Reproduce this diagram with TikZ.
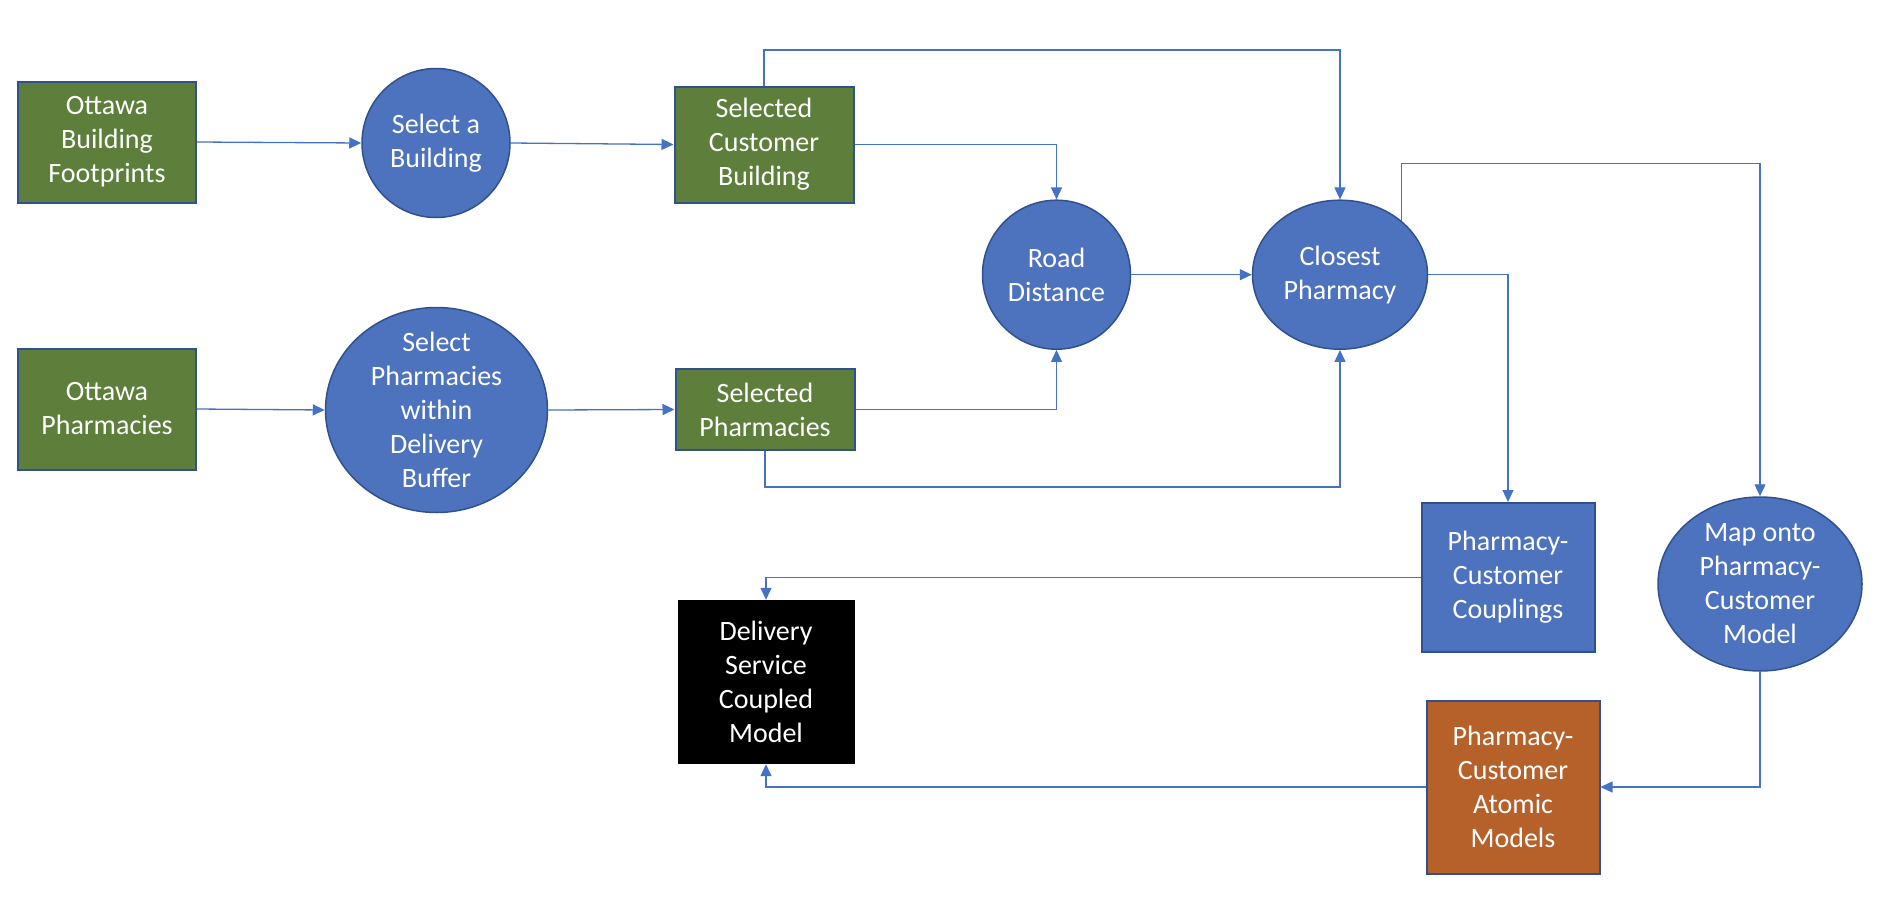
\documentclass[tikz,border=0pt]{standalone}
\usepackage{fontspec}
\setmainfont{Carlito}
\usetikzlibrary{arrows.meta,shapes.geometric}
\definecolor{gfill}{HTML}{5D7F3B}
\definecolor{bfill}{HTML}{4D72BE}
\definecolor{ofill}{HTML}{B6602A}
\definecolor{bord}{HTML}{2F528F}
\definecolor{conncol}{HTML}{4472C4}
\tikzset{
  wtext/.style={text=white, align=center, font=\fontsize{28}{34}\selectfont, inner sep=0pt},
  gbox/.style={rectangle, draw=bord, line width=2pt, fill=gfill, inner sep=0pt, wtext},
  bbox/.style={rectangle, draw=bord, line width=2pt, fill=bfill, inner sep=0pt, wtext},
  obox/.style={rectangle, draw=bord, line width=2pt, fill=ofill, inner sep=0pt, wtext},
  kbox/.style={rectangle, fill=black, inner sep=0pt, wtext},
  proc/.style={ellipse, draw=bord, line width=1.5pt, fill=bfill, inner sep=0pt},
  conn/.style={draw=conncol, line width=1.3pt, -{Triangle[length=12pt,width=11pt]}},
}
\begin{document}
\begin{tikzpicture}[x=1pt,y=-1pt]
\fill[white] (0,0) rectangle (1890,902);
\useasboundingbox (0,0) rectangle (1890,902);

\node[gbox, minimum width=178, minimum height=121] (obf) at (107,142) {Ottawa\\Building\\Footprints};
\node[proc, minimum width=148, minimum height=149, label={[wtext]center:Select a\\Building}] (sab) at (436,143) {};
\node[gbox, minimum width=179, minimum height=116] (scb) at (764,144.5) {Selected\\Customer\\Building};

\node[gbox, minimum width=178, minimum height=121] (op) at (107,409) {Ottawa\\Pharmacies};
\node[proc, minimum width=222, minimum height=205, label={[wtext]center:Select\\Pharmacies\\within\\Delivery\\Buffer}] (spd) at (436.5,410) {};
\node[gbox, minimum width=179, minimum height=81] (spb) at (765,409.5) {Selected\\Pharmacies};

\node[proc, minimum width=148, minimum height=149, label={[wtext]center:Road\\Distance}] (rd) at (1056.5,274.7) {};
\node[proc, minimum width=175, minimum height=149, label={[wtext]center:Closest\\Pharmacy}] (cp) at (1340,274.7) {};

\node[bbox, minimum width=173, minimum height=149] (pcc) at (1508,577.5) {Pharmacy-\\Customer\\Couplings};
\node[proc, minimum width=204, minimum height=174, label={[wtext]center:Map onto\\Pharmacy-\\Customer\\Model}] (map) at (1760,584) {};
\node[obox, minimum width=173, minimum height=173] (pca) at (1513,787) {Pharmacy-\\Customer\\Atomic\\Models};
\node[kbox, minimum width=177, minimum height=164] (dsc) at (766,682) {Delivery\\Service\\Coupled\\Model};

\coordinate (ytop) at (0,50);
\coordinate (ymid) at (0,163.3);
\coordinate (ybot) at (0,487);

\draw[conn] (obf.east) -- (sab.west);
\draw[conn] (sab.east) -- (scb.west);
\draw[conn] (scb.north) -- (scb.north |- ytop) -| (cp.north);
\draw[conn] (scb.east) -| (rd.north);
\draw[conn] (op.east) -- (spd.west);
\draw[conn] (spd.east) -- (spb.west);
\draw[conn] (spb.east) -| (rd.south);
\draw[conn] (spb.south) -- (spb.south |- ybot) -| (cp.south);
\draw[conn] (rd.east) -- (cp.west);
\draw[conn] (cp.east) -| (pcc.north);
\draw[conn] (cp.41) -- (cp.41 |- ymid) -| (map.north);
\draw[conn] (pcc.west) -| (dsc.north);
\draw[conn] (pca.west) -| (dsc.south);
\draw[conn] (map.south) |- (pca.east);
\end{tikzpicture}
\end{document}
